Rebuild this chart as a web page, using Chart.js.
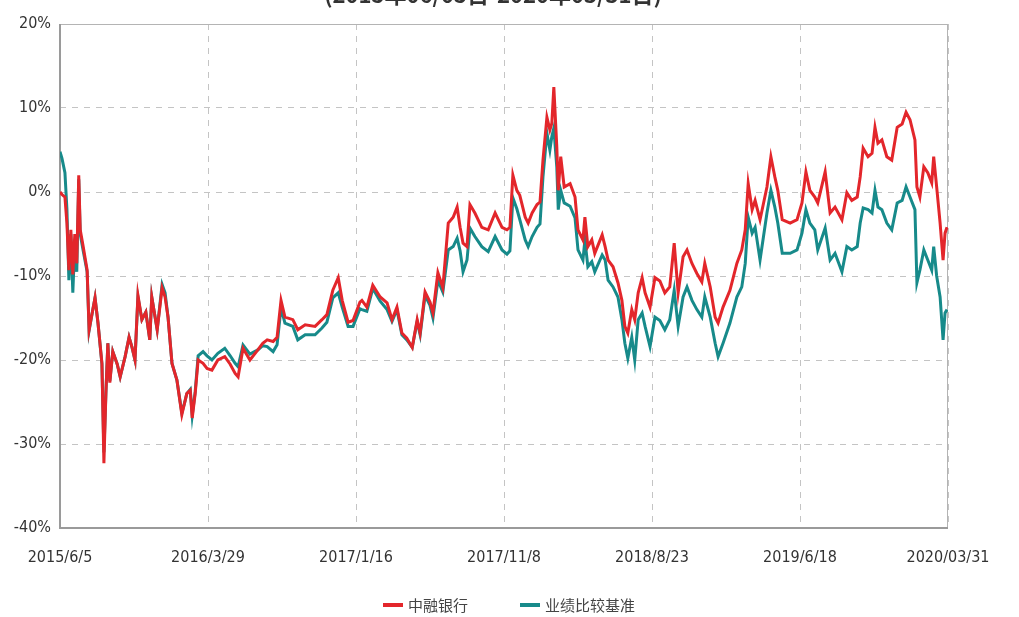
<!DOCTYPE html>
<html>
<head>
<meta charset="utf-8">
<script src="https://cdn.jsdelivr.net/npm/chart.js@4.4.1/dist/chart.umd.min.js"></script>
<style>
html,body{margin:0;padding:0;background:#fff;}
#wrap{position:relative;width:1019px;height:617px;overflow:hidden;}
canvas{display:block;}
</style>
</head>
<body>
<div id="wrap"><canvas id="c" width="1019" height="617"></canvas></div>
<script>
// ---- data (time index: 30 units between consecutive date labels) ----
const titleText = "(2015年06/05日-2020年03/31日)";
const seriesNames = ["中融银行", "业绩比较基准"];
const seriesColors = ["#e3262b", "#178a8a"];
const tickLabels = ["2015/6/5", "2016/3/29", "2017/1/16", "2017/11/8", "2018/8/23", "2019/6/18", "2020/03/31"];
const yTicks = [20, 10, 0, -10, -20, -30, -40];

const timeIndex = [
 0,0.4,1.0,1.4,1.8,2.2,2.6,3.0,3.4,3.8,4.1,4.7,5.5,5.9,6.5,7.1,7.7,8.5,8.9,9.3,
 9.7,10.1,10.7,11.6,12.2,13.2,14.0,14.6,15.2,15.8,16.6,17.4,18.2,18.6,19.7,20.7,21.3,21.9,22.7,23.7,
 24.7,25.3,25.7,26.4,26.8,27.4,28.0,29.0,29.8,30.8,32.0,33.4,34.5,35.5,36.1,37.1,38.5,40.1,41.1,42.0,
 43.2,44.0,44.8,45.6,47.2,48.2,49.7,51.7,53.1,54.1,55.3,56.4,57.2,58.4,59.4,60.8,61.2,62.2,63.4,64.9,
 66.3,67.3,68.3,69.3,70.3,71.4,72.4,73.0,74.0,75.0,75.6,76.6,77.6,78.7,79.7,80.5,81.1,81.7,82.5,83.1,
 84.1,85.5,86.8,88.2,89.6,90.6,91.2,91.8,92.6,93.2,94.3,94.9,95.7,96.7,97.3,97.9,98.7,99.3,99.7,100.1,
 100.7,101.0,101.5,102.2,103.4,104.4,105.0,106.0,106.4,107.0,107.8,108.4,109.9,110.5,111.1,112.1,113.1,113.9,114.5,115.1,
 115.9,116.5,117.2,118.0,118.6,119.6,120.6,121.6,122.6,123.6,124.5,125.3,126.3,127.1,128.1,129.1,130.1,130.7,131.8,132.8,
 133.4,134.4,135.8,137.2,138.2,138.9,139.5,140.3,140.9,141.9,143.3,144.1,144.9,145.5,146.4,148.0,149.4,150.4,151.2,152.0,
 153.0,153.6,155.1,156.1,157.1,158.5,159.5,160.5,161.6,162.2,162.8,163.8,164.6,165.2,165.8,166.6,167.6,168.6,169.7,170.7,
 171.5,172.3,173.3,173.7,174.3,175.1,175.9,176.7,177.1,177.7,178.4,179.0,179.4,179.8
];

const fundReturn = [
 0.0,-0.3,-0.6,-3.7,-9.3,-4.5,-9.8,-5.0,-8.5,2.0,-4.5,-6.5,-9.3,-16.4,-14.5,-12.6,-15.6,-20.4,-32.3,-24.0,
 -18.0,-22.7,-19.0,-20.5,-22.0,-19.6,-17.3,-18.5,-20.0,-12.3,-15.2,-14.3,-17.6,-12.5,-16.4,-11.4,-12.5,-14.9,-20.4,-22.4,
 -26.5,-25.0,-24.0,-23.6,-26.9,-24.0,-20.0,-20.4,-21.0,-21.2,-20.0,-19.6,-20.5,-21.6,-22.0,-18.6,-20.0,-18.8,-18.0,-17.6,
 -17.8,-17.3,-12.9,-14.9,-15.2,-16.4,-15.8,-16.0,-15.2,-14.6,-11.7,-10.2,-12.9,-15.5,-15.3,-13.1,-12.9,-13.7,-11.1,-12.5,
 -13.2,-15.2,-13.7,-16.8,-17.4,-18.5,-15.2,-16.8,-11.9,-13.1,-14.4,-9.6,-11.4,-3.7,-3.0,-1.8,-4.2,-6.1,-6.5,-1.5,
 -2.5,-4.2,-4.5,-2.5,-4.2,-4.5,-4.2,2.0,0.2,-0.4,-3.0,-3.7,-2.5,-1.5,-1.2,3.8,8.9,7.4,8.2,12.5,
 5.4,0.2,4.2,0.6,1.0,-0.6,-4.5,-5.7,-3.0,-6.5,-5.7,-7.3,-5.1,-6.5,-8.1,-8.9,-10.8,-12.9,-16.0,-16.8,
 -14.0,-15.2,-12.0,-10.2,-12.0,-13.7,-10.2,-10.6,-12.0,-11.3,-6.1,-12.0,-7.7,-6.9,-8.5,-9.7,-10.7,-8.5,-11.3,-14.9,
 -15.6,-13.7,-11.7,-8.5,-6.9,-4.5,1.0,-2.1,-1.0,-3.3,0.6,4.2,1.8,0.2,-3.3,-3.7,-3.3,-1.3,2.4,0.2,
 -0.6,-1.3,2.4,-2.5,-1.8,-3.3,-0.1,-1.0,-0.6,1.8,5.2,4.2,4.6,7.7,5.8,6.2,4.2,3.8,7.7,8.1,
 9.5,8.6,6.2,0.6,-0.6,3.0,2.3,1.1,4.2,0.6,-3.7,-8.1,-4.9,-4.2
];

const benchmarkReturn = [
 4.8,4.0,2.3,-2.0,-10.5,-5.0,-12.0,-6.0,-9.5,1.5,-5.0,-7.0,-9.5,-16.5,-14.5,-12.6,-15.6,-20.5,-31.0,-24.0,
 -18.0,-22.5,-19.0,-20.5,-22.0,-19.6,-17.3,-18.5,-20.0,-12.5,-15.2,-14.3,-17.6,-12.5,-16.4,-11.0,-12.0,-14.9,-20.4,-22.4,
 -26.3,-25.0,-24.0,-23.5,-26.6,-23.8,-19.5,-19.0,-19.5,-20.0,-19.2,-18.6,-19.5,-20.4,-20.8,-18.2,-19.3,-18.8,-18.3,-18.4,
 -19.0,-18.2,-13.8,-15.6,-16.0,-17.6,-17.0,-17.0,-16.2,-15.5,-12.6,-12.0,-13.7,-16.0,-16.0,-13.9,-14.0,-14.2,-11.5,-13.0,
 -14.0,-15.4,-14.0,-17.0,-17.6,-18.5,-15.4,-17.0,-12.3,-13.5,-15.0,-10.5,-11.9,-6.9,-6.5,-5.5,-7.0,-9.5,-8.1,-4.3,
 -5.3,-6.5,-7.1,-5.3,-6.9,-7.4,-7.0,-0.7,-2.0,-3.3,-5.7,-6.5,-5.3,-4.2,-3.8,1.8,7.0,5.0,6.6,7.6,
 3.0,-2.1,0.2,-1.3,-1.7,-3.1,-6.9,-8.1,-5.7,-8.9,-8.3,-9.5,-7.5,-8.1,-10.5,-11.3,-12.5,-15.2,-18.0,-19.8,
 -17.3,-20.0,-15.2,-14.4,-16.0,-18.4,-14.9,-15.3,-16.4,-15.2,-11.7,-16.0,-12.5,-11.3,-12.9,-14.0,-14.9,-12.5,-14.9,-18.0,
 -19.6,-18.0,-15.6,-12.5,-11.3,-8.5,-3.0,-4.9,-4.2,-8.1,-2.5,0.2,-1.8,-3.7,-7.3,-7.3,-6.9,-4.9,-2.1,-3.7,
 -4.5,-6.9,-4.3,-8.1,-7.3,-9.5,-6.5,-6.9,-6.5,-3.7,-1.9,-2.1,-2.5,0.2,-1.8,-2.1,-3.7,-4.5,-1.3,-1.0,
 0.6,-0.6,-2.1,-10.8,-9.3,-6.9,-8.1,-9.3,-6.5,-10.0,-12.5,-17.6,-14.4,-14.0
];

const toPoints = (vals) => vals.map((v, i) => ({x: timeIndex[i], y: v}));

const tickFont = {family: "'Liberation Sans Narrow','DejaVu Sans Condensed','Liberation Sans',sans-serif", size: 16};

const frameTitleLegend = {
  id: 'frameTitleLegend',
  beforeDatasetsDraw(chart) {
    const {ctx, chartArea: a} = chart;
    ctx.save();
    ctx.strokeStyle = '#b4b4b4';
    ctx.lineWidth = 1;
    ctx.strokeRect(a.left + 0.5, a.top + 0.5, a.right - a.left - 1, a.bottom - a.top - 1);
    ctx.strokeStyle = '#9a9a9a';
    ctx.lineWidth = 2;
    ctx.beginPath();
    ctx.moveTo(a.left, a.top); ctx.lineTo(a.left, a.bottom); ctx.lineTo(a.right, a.bottom);
    ctx.stroke();
    ctx.restore();
  },
  afterDraw(chart) {
    const ctx = chart.ctx;
    ctx.save();
    // title (cut off by the top edge, as in the source image)
    ctx.font = "bold 22px 'Noto Sans CJK SC','Liberation Sans',sans-serif";
    ctx.fillStyle = '#333';
    ctx.textAlign = 'center';
    ctx.textBaseline = 'alphabetic';
    ctx.fillText(titleText, 493, 3);
    // legend
    ctx.font = "15px 'Noto Sans CJK SC',sans-serif";
    ctx.textAlign = 'left';
    ctx.textBaseline = 'middle';
    const legendY = 605;
    const starts = [383, 520];
    seriesNames.forEach((name, i) => {
      const x0 = starts[i];
      ctx.fillStyle = seriesColors[i];
      ctx.fillRect(x0, legendY - 2, 20, 4);
      ctx.fillStyle = '#444';
      ctx.fillText(name, x0 + 25, legendY);
    });
    ctx.restore();
  }
};

new Chart(document.getElementById('c'), {
  type: 'line',
  data: {
    datasets: [
      {label: seriesNames[0], data: toPoints(fundReturn), borderColor: seriesColors[0],
       borderWidth: 3, pointRadius: 0, tension: 0, order: 0},
      {label: seriesNames[1], data: toPoints(benchmarkReturn), borderColor: seriesColors[1],
       borderWidth: 3, pointRadius: 0, tension: 0, order: 1}
    ]
  },
  options: {
    responsive: false,
    animation: false,
    layout: {padding: {top: 24, left: 0, right: 71, bottom: 45}},
    plugins: {
      title: {display: false},
      tooltip: {enabled: false},
      legend: {display: false}
    },
    scales: {
      x: {
        type: 'linear', min: 0, max: 180,
        afterBuildTicks: (s) => { s.ticks = tickLabels.map((_, i) => ({value: i * 30})); },
        afterFit: (s) => { s.height = 44; },
        ticks: {
          autoSkip: false, maxRotation: 0, padding: 20, color: '#333', font: tickFont,
          callback: (v) => tickLabels[Math.round(v / 30)]
        },
        grid: {drawTicks: false, color: '#c4c4c4', lineWidth: 1},
        border: {display: false, dash: [6, 6]}
      },
      y: {
        min: -40, max: 20,
        afterBuildTicks: (s) => { s.ticks = yTicks.map(v => ({value: v})); },
        afterFit: (s) => { s.width = 60; },
        ticks: {padding: 9, color: '#333', font: tickFont, callback: (v) => v + '%'},
        grid: {drawTicks: false, color: '#c4c4c4', lineWidth: 1},
        border: {display: false, dash: [6, 6]}
      }
    }
  },
  plugins: [frameTitleLegend]
});
</script>
</body>
</html>
